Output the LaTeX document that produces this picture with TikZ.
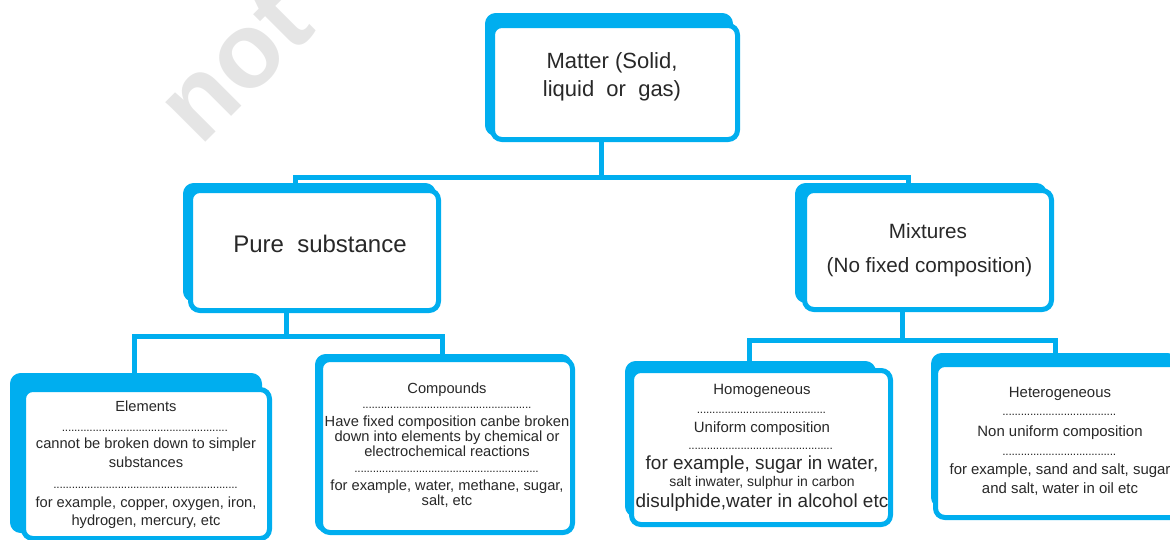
\documentclass[tikz,border=0pt]{standalone}
\usepackage{fontspec}
\setmainfont{Liberation Sans}
\newdimen\pxu \pxu=0.75pt
\newcommand\dotrow[1]{\hbox to #1\pxu{\leaders\hbox to 2.3pt{\hss.\hss}\hfill}}
\newcommand\fsz[1]{\fontsize{#1}{#1}\selectfont}
\definecolor{cyanb}{RGB}{0,174,239}
\definecolor{textc}{RGB}{40,40,40}
\begin{document}
\begin{tikzpicture}[x=0.75pt,y=-0.75pt,
  box/.style={draw=cyanb, line width=3.75pt, fill=white, rounded corners=7pt, inner sep=0pt},
  sz/.style 2 args={minimum width=#1*0.75pt, minimum height=#2*0.75pt},
  back/.style={fill=cyanb, rounded corners=8pt},
  conn/.style={draw=cyanb, line width=3.75pt},
  txt/.style={text=textc, inner sep=0pt, anchor=base},
  dots/.style={text=textc, inner sep=0pt, anchor=base, font=\fsz{9}}]
\useasboundingbox (0,0) rectangle (1170,539);
\clip (0,0) rectangle (1170,539);
% watermark
\node[text=black!10, font=\fsz{80}\bfseries, rotate=45] (wm) at (235,65) {not};
% back shapes
\fill[back] (485,13) rectangle (733,136);
\fill[back] (183,183) rectangle (436,302);
\fill[back] (795,183) rectangle (1047,303);
\fill[back] (10,373) rectangle (262,533);
\fill[back] (315,354) rectangle (572,532);
\fill[back] (625,361) rectangle (876,517);
\fill[back] (931,353) rectangle (1178,508);
% boxes
\node[box, sz={245}{114}] (matter) at (615,82.5) {};
\node[box, sz={248}{120}] (pure) at (314.5,250.5) {};
\node[box, sz={247}{119}] (mix) at (928,250) {};
\node[box, sz={246}{149}] (elem) at (146.5,464) {};
\node[box, sz={252}{173}] (comp) at (446.5,446) {};
\node[box, sz={259}{154}] (homo) at (761,447.5) {};
\node[box, sz={247}{153}] (hetero) at (1059,441) {};
% connectors
\coordinate (m1) at (601,177);
\coordinate (m2) at (295,177);
\coordinate (m3) at (908,177);
\draw[conn] (m1 |- matter.south) -- (m1);
\draw[conn] (m2 |- pure.north) -- (m2) -- (m3) -- (m3 |- mix.north);
\coordinate (p1) at (286,336);
\coordinate (p2) at (134,336);
\coordinate (p3) at (442,336);
\draw[conn] (p1 |- pure.south) -- (p1);
\draw[conn] (p2 |- elem.north) -- (p2) -- (p3) -- (p3 |- comp.north);
\coordinate (x1) at (902,340);
\coordinate (x2) at (749,340);
\coordinate (x3) at (1055,340);
\draw[conn] (x1 |- mix.south) -- (x1);
\draw[conn] (x2 |- homo.north) -- (x2) -- (x3) -- (x3 |- hetero.north);
% texts
\node[txt, font=\fsz{16.5}] (mt1) at (612,68) {Matter (Solid,};
\node[txt, font=\fsz{16.5}] (mt2) at (612,96.5) {liquid\ \ or\ \ gas)};
\node[txt, font=\fsz{18}] (pt1) at (320,252) {Pure\ \ substance};
\node[txt, font=\fsz{15.5}] (xt1) at (928,238) {Mixtures};
\node[txt, font=\fsz{15.5}] (xt2) at (929.5,272) {(No fixed composition)};
% elements
\node[txt, font=\fsz{11}] (e1) at (146,411) {Elements};
\node[dots] (ed1) at (146,431) {\dotrow{168}};
\node[txt, font=\fsz{11}] (e2) at (146,448) {cannot be broken down to simpler};
\node[txt, font=\fsz{11}] (e3) at (146,467) {substances};
\node[dots] (ed2) at (146,488) {\dotrow{185}};
\node[txt, font=\fsz{11}] (e4) at (146,507) {for example, copper, oxygen, iron,};
\node[txt, font=\fsz{11}] (e5) at (146,525) {hydrogen, mercury, etc};
% compounds
\node[txt, font=\fsz{11}] (c1) at (447,393) {Compounds};
\node[dots] (cd1) at (447,408) {\dotrow{169}};
\node[txt, font=\fsz{11}] (c2) at (447,426) {Have fixed composition canbe broken};
\node[txt, font=\fsz{11}] (c3) at (447,441) {down into elements by chemical or};
\node[txt, font=\fsz{11}] (c4) at (447,456) {electrochemical reactions};
\node[dots] (cd2) at (447,472) {\dotrow{185}};
\node[txt, font=\fsz{11}] (c5) at (447,490) {for example, water, methane, sugar,};
\node[txt, font=\fsz{11}] (c6) at (447,505) {salt, etc};
% homogeneous
\node[txt, font=\fsz{11.2}] (h1) at (762,394) {Homogeneous};
\node[dots] (hd1) at (762,413) {\dotrow{130}};
\node[txt, font=\fsz{11.2}] (h2) at (762,432) {Uniform composition};
\node[dots] (hd2) at (762,449) {\dotrow{147}};
\node[txt, font=\fsz{14.2}] (h3) at (762,469) {for example, sugar in water,};
\node[txt, font=\fsz{10.5}] (h4) at (762,486) {salt inwater, sulphur in carbon};
\node[txt, font=\fsz{14.2}] (h5) at (762,507) {disulphide,water in alcohol etc};
% heterogeneous
\node[txt, font=\fsz{11.2}] (g1) at (1060,397) {Heterogeneous};
\node[dots] (gd1) at (1060,415) {\dotrow{115}};
\node[txt, font=\fsz{11.2}] (g2) at (1060,436) {Non uniform composition};
\node[dots] (gd2) at (1060,455) {\dotrow{115}};
\node[txt, font=\fsz{11.2}] (g3) at (1060,474) {for example, sand and salt, sugar};
\node[txt, font=\fsz{11.2}] (g4) at (1060,493) {and salt, water in oil etc};
\end{tikzpicture}
\end{document}
